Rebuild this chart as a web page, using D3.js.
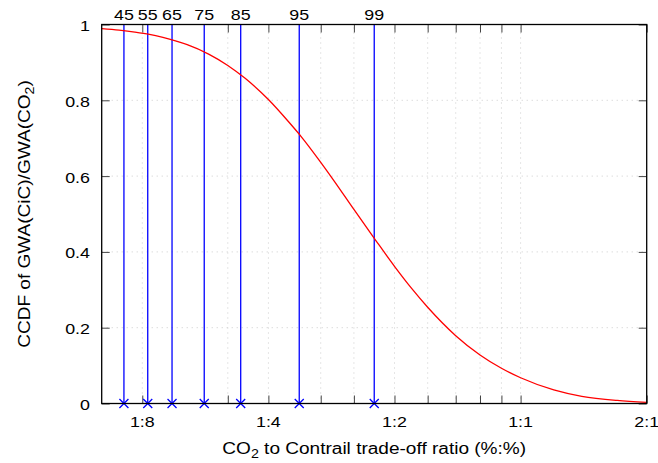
<!DOCTYPE html>
<html><head><meta charset="utf-8">
<script src="https://cdn.jsdelivr.net/npm/d3@7"></script>
<style>body{margin:0;background:#fff}svg{display:block}text{font-family:"Liberation Sans",Arial,sans-serif;fill:#000}</style>
</head><body>
<script>
// CCDF curve samples (ratio CO2:contrail, CCDF value)
const ratios = [0.1,0.11,0.12,0.13,0.14,0.15,0.16,0.18,0.20,0.22,0.25,0.28,0.30,0.33,0.36,0.40,0.45,0.50,0.55,0.60,0.70,0.80,0.90,1.0,1.2,1.4,1.7,2.0];
const ccdf   = [0.989,0.985,0.980,0.974,0.966,0.957,0.947,0.922,0.892,0.858,0.802,0.742,0.703,0.643,0.585,0.512,0.432,0.362,0.303,0.254,0.179,0.128,0.093,0.068,0.036,0.019,0.008,0.003];
// percentile markers
const pctLabels = ["45","55","65","75","85","95","99"];
const pctRatios = [0.1130,0.1288,0.1472,0.1757,0.2147,0.2962,0.4473];
// axis ticks
const xTickVals = [0.125,0.25,0.5,1,2];
const xTickLabels = ["1:8","1:4","1:2","1:1","2:1"];
const xMinorVals = [0.2,1/3,0.4,0.6,0.7,0.8,0.9];
const yTickVals = [0,0.2,0.4,0.6,0.8,1];
const yTickLabels = ["0","0.2","0.4","0.6","0.8","1"];

const W=658,H=463;
const m={l:101.7,r:658-646.7,t:24.5,b:463-403.5};
const svg=d3.select("body").append("svg").attr("width",W).attr("height",H);
const x=d3.scaleLog().domain([0.1,2]).range([m.l,W-m.r]);
const y=d3.scaleLinear().domain([0,1]).range([H-m.b,m.t]);
const fs=15, tfs=16, sx=1.19;

// grid
const allX = xTickVals.concat(xMinorVals).filter(v=>v<2);
svg.append("g").selectAll("line").data(allX).join("line")
  .attr("x1",d=>x(d)).attr("x2",d=>x(d)).attr("y1",y(0)).attr("y2",y(1))
  .attr("stroke","#cccccc").attr("stroke-width",1).attr("stroke-dasharray","1,4");
svg.append("g").selectAll("line").data(yTickVals.filter(v=>v>0&&v<1)).join("line")
  .attr("x1",x(0.1)).attr("x2",x(2)).attr("y1",d=>y(d)).attr("y2",d=>y(d))
  .attr("stroke","#cccccc").attr("stroke-width",1).attr("stroke-dasharray","1,4");

// axes tick marks (inward, mirrored)
const tl=8;
const allTicks = xTickVals.concat(xMinorVals);
const gxb=svg.append("g").attr("transform",`translate(0,${y(0)})`).call(d3.axisBottom(x).tickValues(allTicks).tickSize(-tl).tickFormat(""));
const gxt=svg.append("g").attr("transform",`translate(0,${y(1)})`).call(d3.axisTop(x).tickValues(allTicks).tickSize(-tl).tickFormat(""));
const gyl=svg.append("g").attr("transform",`translate(${x(0.1)},0)`).call(d3.axisLeft(y).tickValues(yTickVals).tickSize(-tl).tickFormat(""));
const gyr=svg.append("g").attr("transform",`translate(${x(2)},0)`).call(d3.axisRight(y).tickValues(yTickVals).tickSize(-tl).tickFormat(""));
[gxb,gxt,gyl,gyr].forEach(g=>{g.select(".domain").remove();g.selectAll("text").remove();g.selectAll(".tick line").attr("stroke","#444");});

// tick labels (font is horizontally wide in reference)
svg.append("g").selectAll("text").data(xTickVals).join("text")
  .attr("transform",d=>`translate(${x(d)},427) scale(${sx},1)`).attr("text-anchor","middle").attr("font-size",fs)
  .text((d,i)=>xTickLabels[i]);
svg.append("g").selectAll("text").data(yTickVals).join("text")
  .attr("transform",d=>`translate(90,${y(d)+6.5}) scale(${sx},1)`).attr("text-anchor","end").attr("font-size",fs)
  .text((d,i)=>yTickLabels[i]);

// percentile lines
svg.append("g").selectAll("line").data(pctRatios).join("line")
  .attr("x1",d=>x(d)).attr("x2",d=>x(d)).attr("y1",y(0)).attr("y2",y(1))
  .attr("stroke","#0000ff").attr("stroke-width",1.3);
svg.append("g").selectAll("path").data(pctRatios).join("path")
  .attr("d",d=>{const cx=x(d),cy=y(0),s=4.5;return `M${cx-s},${cy-s}L${cx+s},${cy+s}M${cx-s},${cy+s}L${cx+s},${cy-s}`;})
  .attr("stroke","#0000ff").attr("stroke-width",1.3).attr("fill","none");
svg.append("g").selectAll("text").data(pctRatios).join("text")
  .attr("transform",d=>`translate(${x(d)},20) scale(${sx},1)`).attr("text-anchor","middle").attr("font-size",fs)
  .text((d,i)=>pctLabels[i]);

// curve
const pts=ratios.map((r,i)=>[r,ccdf[i]]);
svg.append("path").datum(pts)
  .attr("d",d3.line().x(d=>x(d[0])).y(d=>y(d[1])).curve(d3.curveMonotoneX))
  .attr("fill","none").attr("stroke","#ff0000").attr("stroke-width",1.3);

// frame
svg.append("rect").attr("x",x(0.1)).attr("y",y(1)).attr("width",x(2)-x(0.1)).attr("height",y(0)-y(1))
  .attr("fill","none").attr("stroke","#000").attr("stroke-width",1.3);

// titles
const xtTitle=svg.append("text").attr("transform",`translate(${(x(0.1)+x(2))/2},454) scale(${sx},1)`).attr("text-anchor","middle").attr("font-size",tfs);
xtTitle.append("tspan").text("CO");
xtTitle.append("tspan").attr("font-size",12).attr("dy",4).text("2");
xtTitle.append("tspan").attr("dy",-4).text(" to Contrail trade-off ratio (%:%)");
const ytTitle=svg.append("text").attr("transform",`translate(30,${(y(0)+y(1))/2}) rotate(-90) scale(${sx},1)`).attr("text-anchor","middle").attr("font-size",tfs);
ytTitle.append("tspan").text("CCDF of GWA(CiC)/GWA(CO");
ytTitle.append("tspan").attr("font-size",12).attr("dy",4).text("2");
ytTitle.append("tspan").attr("dy",-4).text(")");
</script>
</body></html>
